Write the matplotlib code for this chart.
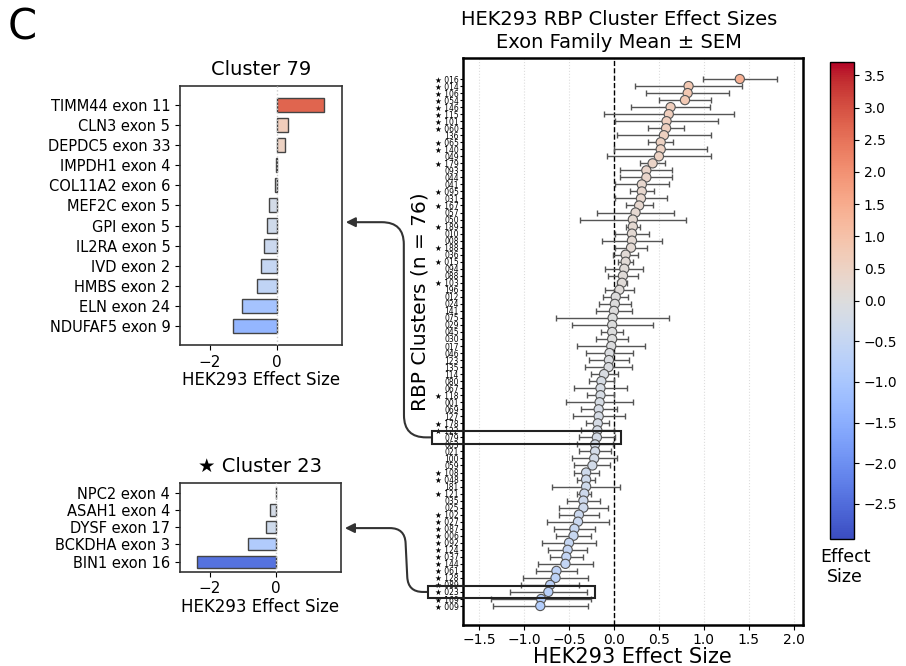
import numpy as np
import matplotlib
matplotlib.use('Agg')
import matplotlib.pyplot as plt
from matplotlib.colors import TwoSlopeNorm
from matplotlib.cm import ScalarMappable
from matplotlib.patches import Rectangle
from matplotlib.transforms import blended_transform_factory

# cluster ids, top to bottom
clusters = ['016', '014', '106', '054', '146', '115', '101', '060', '136', '065',
            '140', '049', '179', '093', '044', '041', '095', '031', '167', '057',
            '050', '189', '010', '008', '188', '036', '015', '094', '088', '103',
            '196', '012', '024', '141', '075', '029', '045', '030', '017', '046',
            '123', '135', '114', '080', '067', '118', '001', '069', '127', '178',
            '122', '079', '063', '021', '100', '059', '108', '048', '181', '121',
            '035', '025', '102', '027', '087', '006', '092', '124', '037', '144',
            '061', '128', '089', '023', '169', '009']
starred = ['016', '014', '106', '054', '146', '115', '101', '060', '065', '140',
           '179', '095', '167', '189', '188', '015', '103', '118', '178', '122',
           '108', '048', '121', '102', '027', '087', '006', '092', '124', '037',
           '144', '061', '128', '089', '023', '169', '009']
means = [1.40, 0.83, 0.82, 0.79, 0.63, 0.61, 0.585, 0.58, 0.556, 0.52,
         0.52, 0.50, 0.43, 0.36, 0.36, 0.31, 0.31, 0.30, 0.28, 0.24,
         0.21, 0.21, 0.20, 0.20, 0.19, 0.13, 0.13, 0.115, 0.10, 0.09,
         0.06, 0.02, 0.01, 0.0, -0.015, -0.02, -0.02, -0.02, -0.03, -0.05,
         -0.056, -0.06, -0.11, -0.14, -0.15, -0.15, -0.16, -0.17, -0.17, -0.18,
         -0.185, -0.19, -0.21, -0.21, -0.22, -0.24, -0.31, -0.31, -0.31, -0.33,
         -0.34, -0.34, -0.39, -0.40, -0.44, -0.45, -0.50, -0.515, -0.53, -0.54,
         -0.64, -0.65, -0.71, -0.73, -0.81, -0.82]
sems = [0.41, 0.60, 0.46, 0.29, 0.44, 0.72, 0.57, 0.20, 0.52, 0.14,
        0.52, 0.58, 0.14, 0.29, 0.29, 0.30, 0.13, 0.29, 0.15, 0.43,
        0.59, 0.08, 0.19, 0.33, 0.18, 0.14, 0.08, 0.21, 0.17, 0.06,
        0.16, 0.14, 0.18, 0.20, 0.63, 0.45, 0.12, 0.18, 0.38, 0.26,
        0.22, 0.26, 0.15, 0.14, 0.30, 0.15, 0.37, 0.20, 0.29, 0.13,
        0.18, 0.20, 0.20, 0.18, 0.25, 0.20, 0.14, 0.10, 0.38, 0.08,
        0.18, 0.27, 0.22, 0.34, 0.23, 0.20, 0.30, 0.22, 0.18, 0.31,
        0.23, 0.36, 0.32, 0.43, 0.56, 0.53]

# cluster 79 exons
c79_exons = ['TIMM44 exon 11', 'CLN3 exon 5', 'DEPDC5 exon 33', 'IMPDH1 exon 4',
             'COL11A2 exon 6', 'MEF2C exon 5', 'GPI exon 5', 'IL2RA exon 5',
             'IVD exon 2', 'HMBS exon 2', 'ELN exon 24', 'NDUFAF5 exon 9']
c79_vals = [1.42, 0.35, 0.26, -0.02, -0.05, -0.22, -0.28, -0.38, -0.48, -0.58, -1.05, -1.32]

# cluster 23 exons
c23_exons = ['NPC2 exon 4', 'ASAH1 exon 4', 'DYSF exon 17', 'BCKDHA exon 3', 'BIN1 exon 16']
c23_vals = [-0.01, -0.20, -0.30, -0.85, -2.38]

cbar_ticks = [-2.5, -2.0, -1.5, -1.0, -0.5, 0.0, 0.5, 1.0, 1.5, 2.0, 2.5, 3.0, 3.5]
x_ticks = [-1.5, -1.0, -0.5, 0.0, 0.5, 1.0, 1.5, 2.0]

cmap = plt.get_cmap('coolwarm')
norm = TwoSlopeNorm(vcenter=0, vmin=-2.94, vmax=3.71)
bar_norm = TwoSlopeNorm(vcenter=0, vmin=-2.9, vmax=1.95)

fig = plt.figure(figsize=(9.06, 6.66), dpi=100)
ax = fig.add_axes([0.511, 0.0616, 0.375, 0.8514])
ax79 = fig.add_axes([0.1987, 0.482, 0.1785, 0.389])
ax23 = fig.add_axes([0.1987, 0.1416, 0.1775, 0.1336])
cax = fig.add_axes([0.916, 0.190, 0.0265, 0.717])

# main panel
y = np.arange(len(clusters))
for t in x_ticks:
    ax.axvline(t, color='#dddddd', ls=':', lw=0.8, zorder=0)
ax.axvline(0, color='black', ls='--', lw=1, zorder=1)
ax.errorbar(means, y, xerr=sems, fmt='none', ecolor='#555555', elinewidth=1,
            capsize=2, capthick=1, zorder=2)
ax.scatter(means, y, c=means, cmap=cmap, norm=norm, s=44, edgecolors='#555555',
           linewidths=0.8, zorder=3)
ax.set_ylim(len(clusters) - 1 + 2.7, -3)
ax.set_xlim(-1.68, 2.1)
labels = [('★ ' if c in starred else '') + c for c in clusters]
ax.set_yticks(y, labels, fontsize=5.5)
ax.tick_params(axis='y', length=2, pad=1)
ax.set_xticks(x_ticks)
ax.tick_params(axis='x', labelsize=10, pad=2)
ax.set_xlabel('HEK293 Effect Size', fontsize=15, labelpad=0)
ax.set_title('HEK293 RBP Cluster Effect Sizes\nExon Family Mean ± SEM', fontsize=14,
             x=0.46, pad=7, linespacing=1.25)
for s in ax.spines.values():
    s.set_linewidth(1.8)
fig.text(420 / 906, 1 - 302 / 666, 'RBP Clusters (n = 76)', rotation=90,
         fontsize=14.5, ha='center', va='center')

# colorbar
cb = fig.colorbar(ScalarMappable(norm=norm, cmap=cmap), cax=cax)
cb.set_ticks(cbar_ticks)
cb.ax.tick_params(labelsize=10)
cb.outline.set_linewidth(1)
fig.text(845 / 906, 1 - 567 / 666, 'Effect\nSize', fontsize=12.5, ha='center',
         va='center', linespacing=1.1)


def bar_panel(a, names, vals, title):
    pos = np.arange(len(names))
    a.barh(pos, vals, height=0.7, color=cmap(bar_norm(np.array(vals))),
           edgecolor='#444444', linewidth=1, zorder=2)
    a.axvline(0, color='#cccccc', ls=':', lw=1, zorder=3)
    a.set_yticks(pos, names, fontsize=10.5)
    a.invert_yaxis()
    a.set_xlim(-2.9, 1.95)
    a.set_xticks([-2, 0])
    a.tick_params(axis='x', labelsize=11)
    a.set_xlabel('HEK293 Effect Size', fontsize=12, labelpad=1)
    a.set_title(title, fontsize=14, pad=8)
    for s in a.spines.values():
        s.set_linewidth(1.2)
        s.set_color('#333333')


bar_panel(ax79, c79_exons, c79_vals, 'Cluster 79')
bar_panel(ax23, c23_exons, c23_vals, '★ Cluster 23')

# highlight boxes and arrows
trans = blended_transform_factory(fig.transFigure, ax.transData)
for cid, x0, x1, tgt, ty, armA, armB, rad in [('079', 432, 621, ax79, 0.474, 28, 58, 22),
                                              ('023', 428, 595, ax23, 0.49, 20, 60, 15)]:
    i = clusters.index(cid)
    rect = Rectangle((x0 / 906, i + 0.9), (x1 - x0) / 906, -1.8, transform=trans,
                     fill=False, edgecolor='#222222', lw=1.5, clip_on=False, zorder=5)
    fig.add_artist(rect)
    ax.annotate('', xy=(1.025, ty), xycoords=tgt.transAxes,
                xytext=(x0 / 906, i), textcoords=trans,
                arrowprops=dict(arrowstyle='-|>', color='#333333', lw=1.5,
                                mutation_scale=14, shrinkA=0, shrinkB=0,
                                connectionstyle='arc,angleA=180,angleB=0,armA=%d,armB=%d,rad=%d' % (armA, armB, rad)),
                annotation_clip=False)

fig.text(0.008, 0.99, 'C', fontsize=30, ha='left', va='top')

fig.savefig('out.png', dpi=100)
